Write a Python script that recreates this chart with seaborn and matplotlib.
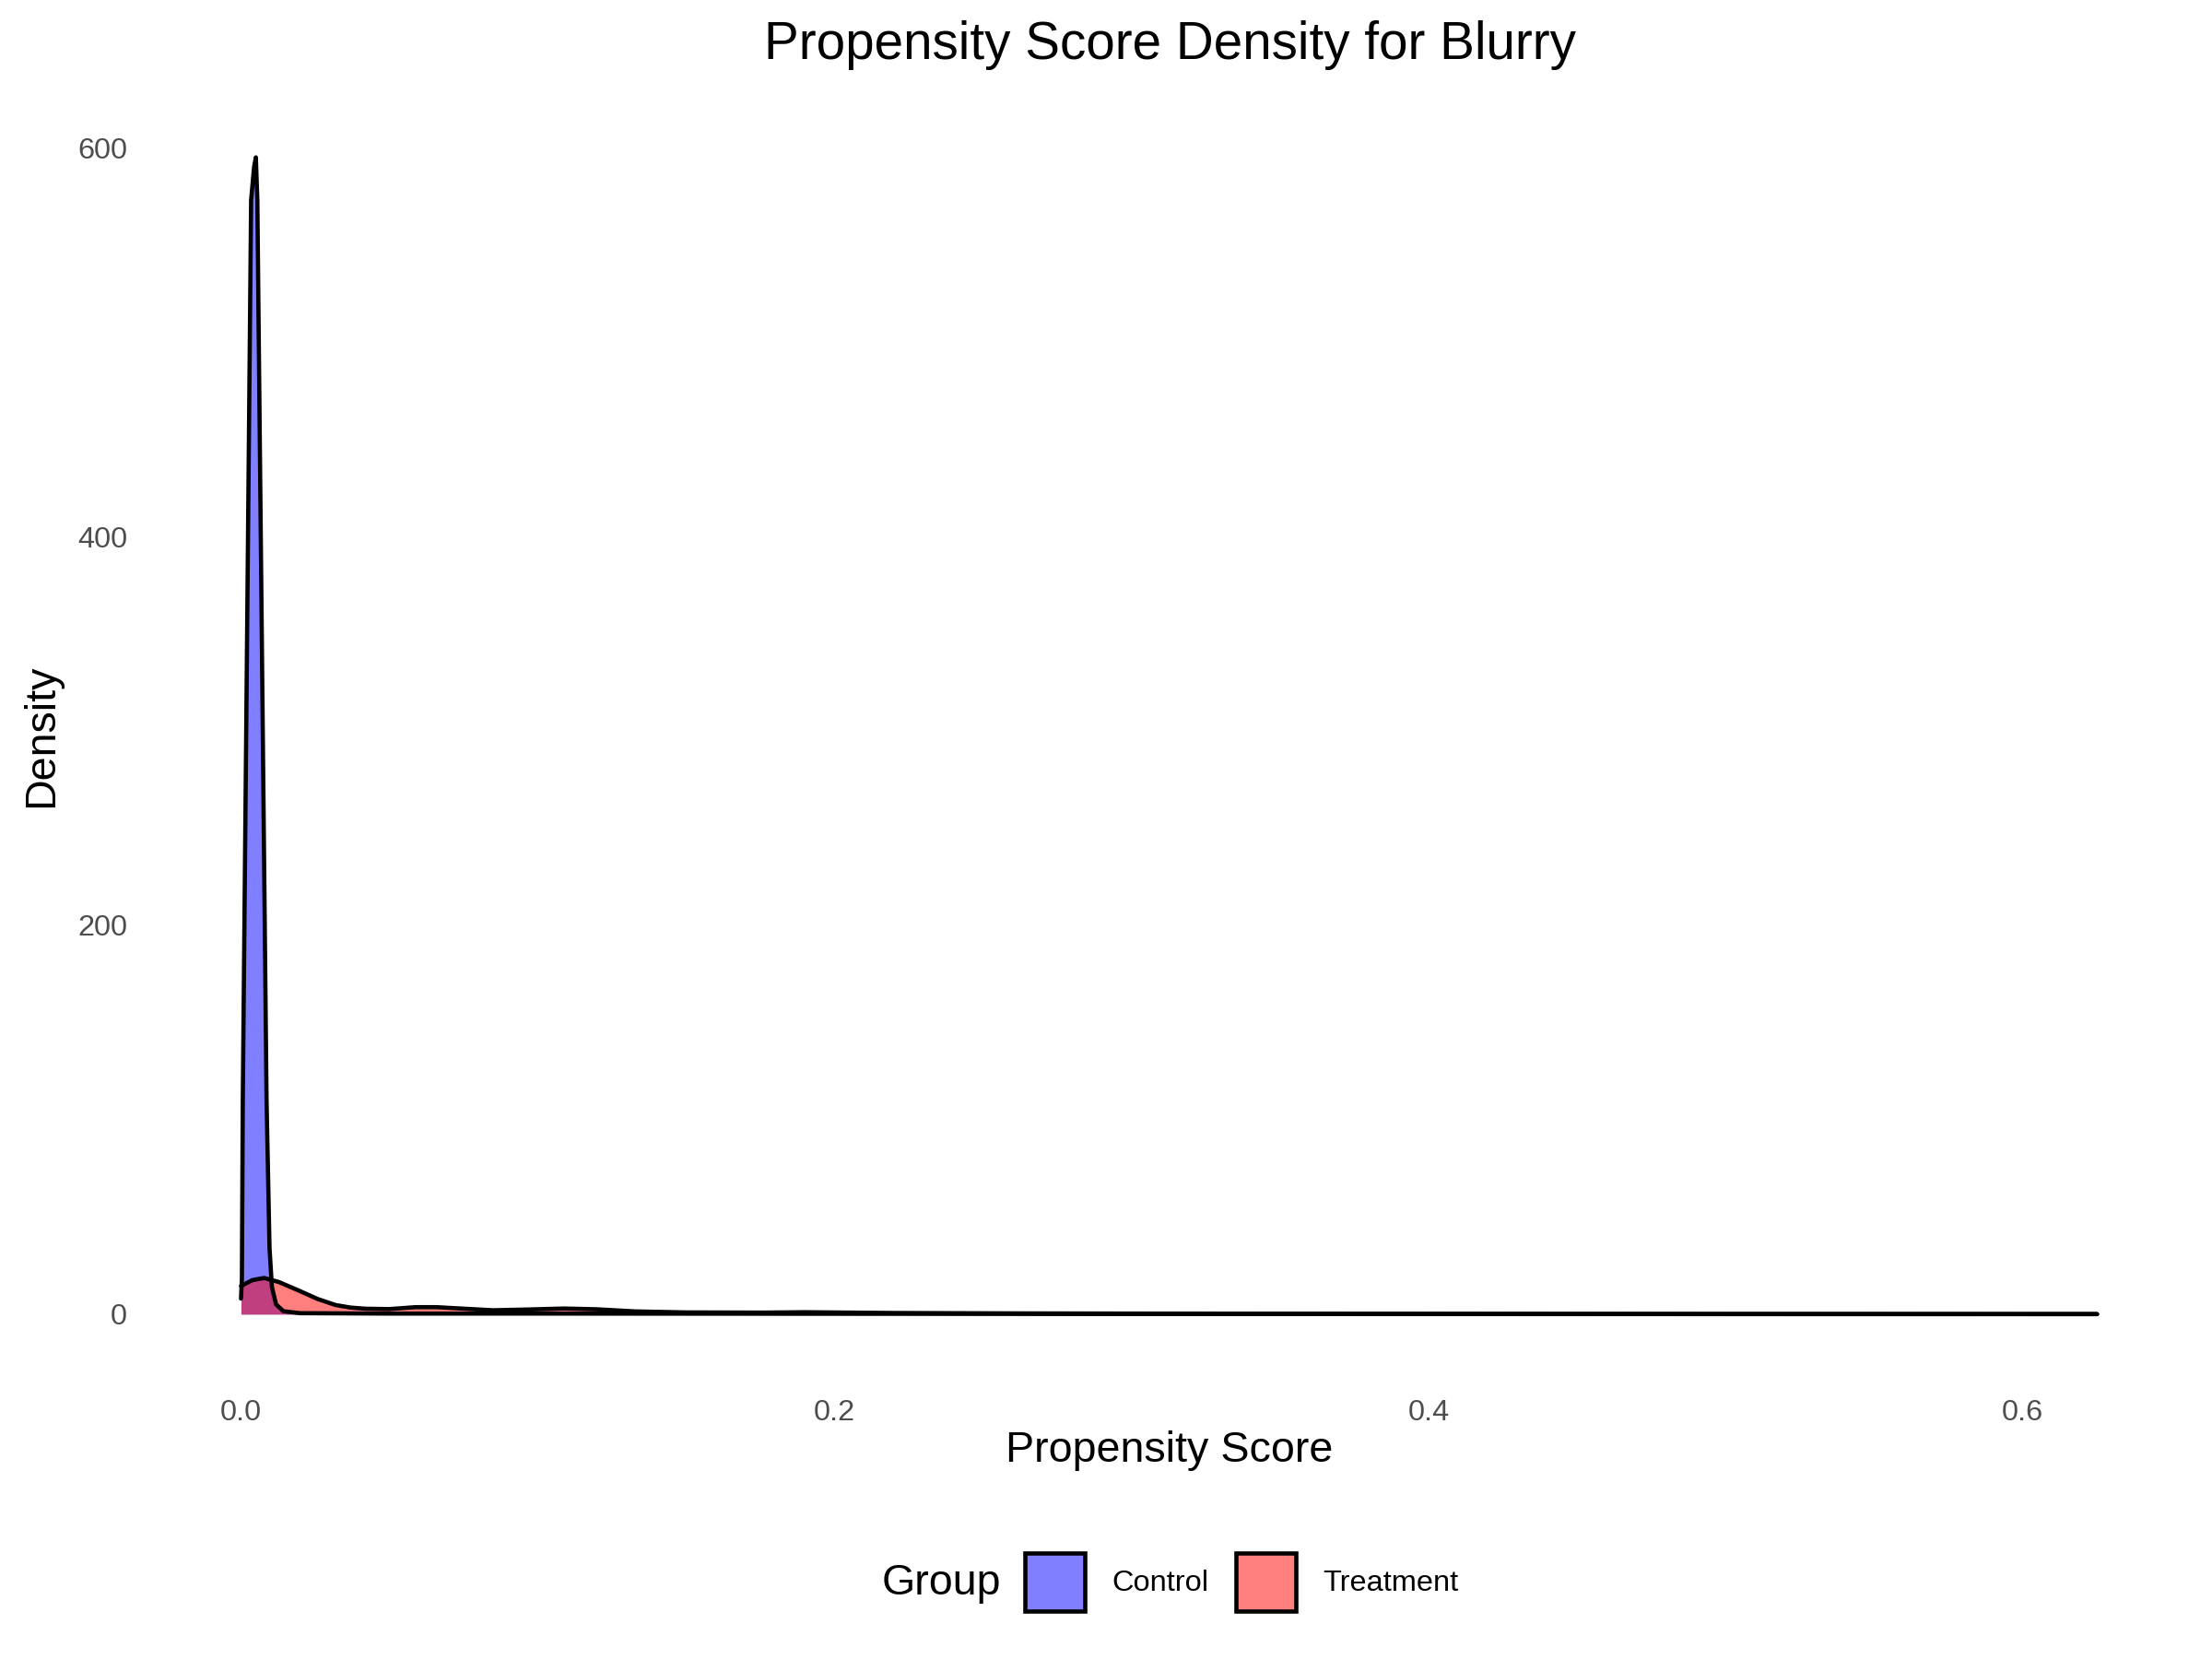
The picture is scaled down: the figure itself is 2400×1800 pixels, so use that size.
import numpy as np
import pandas as pd
import matplotlib
matplotlib.use("Agg")
import matplotlib.pyplot as plt
import seaborn as sns
from matplotlib.patches import Patch

# density curves
control_x = [0.0002, 0.0005, 0.0008, 0.0020, 0.0036, 0.0046, 0.0052, 0.0057, 0.0070,
             0.0088, 0.0098, 0.0106, 0.0120, 0.0145, 0.020, 0.050, 0.100, 0.200,
             0.300, 0.400, 0.500, 0.625]
control_y = [8, 18, 110, 308, 573, 590, 595, 573, 379,
             110, 34, 14, 5, 1.5, 0.5, 0.3, 0.3, 0.2,
             0.1, 0.05, 0.02, 0.01]

treat_x = [0.0002, 0.004, 0.008, 0.013, 0.020, 0.026, 0.032, 0.037, 0.042, 0.050,
           0.059, 0.066, 0.073, 0.085, 0.097, 0.109, 0.120, 0.133, 0.150, 0.176,
           0.190, 0.220, 0.260, 0.300, 0.350, 0.400, 0.450, 0.500, 0.550, 0.625]
treat_y = [14.5, 17.5, 18.6, 16.5, 11.9, 7.8, 4.7, 3.4, 2.8, 2.6,
           3.6, 3.6, 3.0, 2.0, 2.4, 2.9, 2.5, 1.4, 0.9, 0.8,
           1.0, 0.6, 0.4, 0.3, 0.25, 0.2, 0.15, 0.1, 0.08, 0.05]

groups = ["Control", "Treatment"]
group_colors = {"Control": "#0000FF", "Treatment": "#FF0000"}
x_ticks = [0.0, 0.2, 0.4, 0.6]
y_ticks = [0, 200, 400, 600]

df = pd.concat([
    pd.DataFrame({"score": control_x, "density": control_y, "group": "Control"}),
    pd.DataFrame({"score": treat_x, "density": treat_y, "group": "Treatment"}),
])

sns.set_theme(style="white")
plt.rcParams["font.family"] = ["Liberation Sans", "DejaVu Sans"]
plt.rcParams["text.color"] = "black"
plt.rcParams["axes.labelcolor"] = "black"

fig = plt.figure(figsize=(8, 6), dpi=300)
ax = fig.add_axes([0.067, 0.173, 0.923, 0.767])

for g in groups:
    sub = df[df["group"] == g]
    ax.fill_between(sub["score"], 0, sub["density"], color=group_colors[g],
                    alpha=0.5, linewidth=0)
    sns.lineplot(data=sub, x="score", y="density", color="black", linewidth=1.1,
                 sort=False, estimator=None, ax=ax)

# ggplot style 5% expansion
xmin, xmax = df["score"].min(), df["score"].max()
ymin, ymax = 0, df["density"].max()
ax.set_xlim(xmin - 0.05 * (xmax - xmin), xmax + 0.05 * (xmax - xmin))
ax.set_ylim(ymin - 0.05 * (ymax - ymin), ymax + 0.05 * (ymax - ymin))

ax.set_xticks(x_ticks)
ax.set_xticklabels([f"{t:.1f}" for t in x_ticks])
ax.set_yticks(y_ticks)
ax.set_yticklabels([str(t) for t in y_ticks])
ax.tick_params(axis="both", length=0, labelsize=7.8, labelcolor="#4D4D4D")
ax.tick_params(axis="x", pad=7)
ax.tick_params(axis="y", pad=5.5)
for s in ax.spines.values():
    s.set_visible(False)
ax.grid(False)

ax.set_xlabel("Propensity Score", fontsize=11.2)
ax.set_ylabel("Density", fontsize=11.2)
ax.xaxis.set_label_coords(0.5, -0.062)
ax.xaxis.label.set_va("center")
ax.yaxis.set_label_coords(-0.052, 0.5)
ax.yaxis.label.set_va("center")

fig.text(0.529, 0.9728, "Propensity Score Density for Blurry", fontsize=13.6,
         ha="center", va="center")

# legend along the bottom, title on the left
fig.text(0.4525, 0.0455, "Group", fontsize=11.2, ha="right", va="center")
handles = []
for g in groups:
    fc = matplotlib.colors.to_rgba(group_colors[g], 0.5)
    handles.append(Patch(facecolor=fc, edgecolor="black", linewidth=1.1, label=g))
fig.legend(handles=handles, loc="center left", bbox_to_anchor=(0.4635, 0.0465),
           ncol=2, frameon=False, fontsize=7.8, handlelength=2.0,
           handleheight=2.6, handletextpad=0.9, columnspacing=0.9,
           borderpad=0, borderaxespad=0)

fig.savefig("out.png", dpi=300)
